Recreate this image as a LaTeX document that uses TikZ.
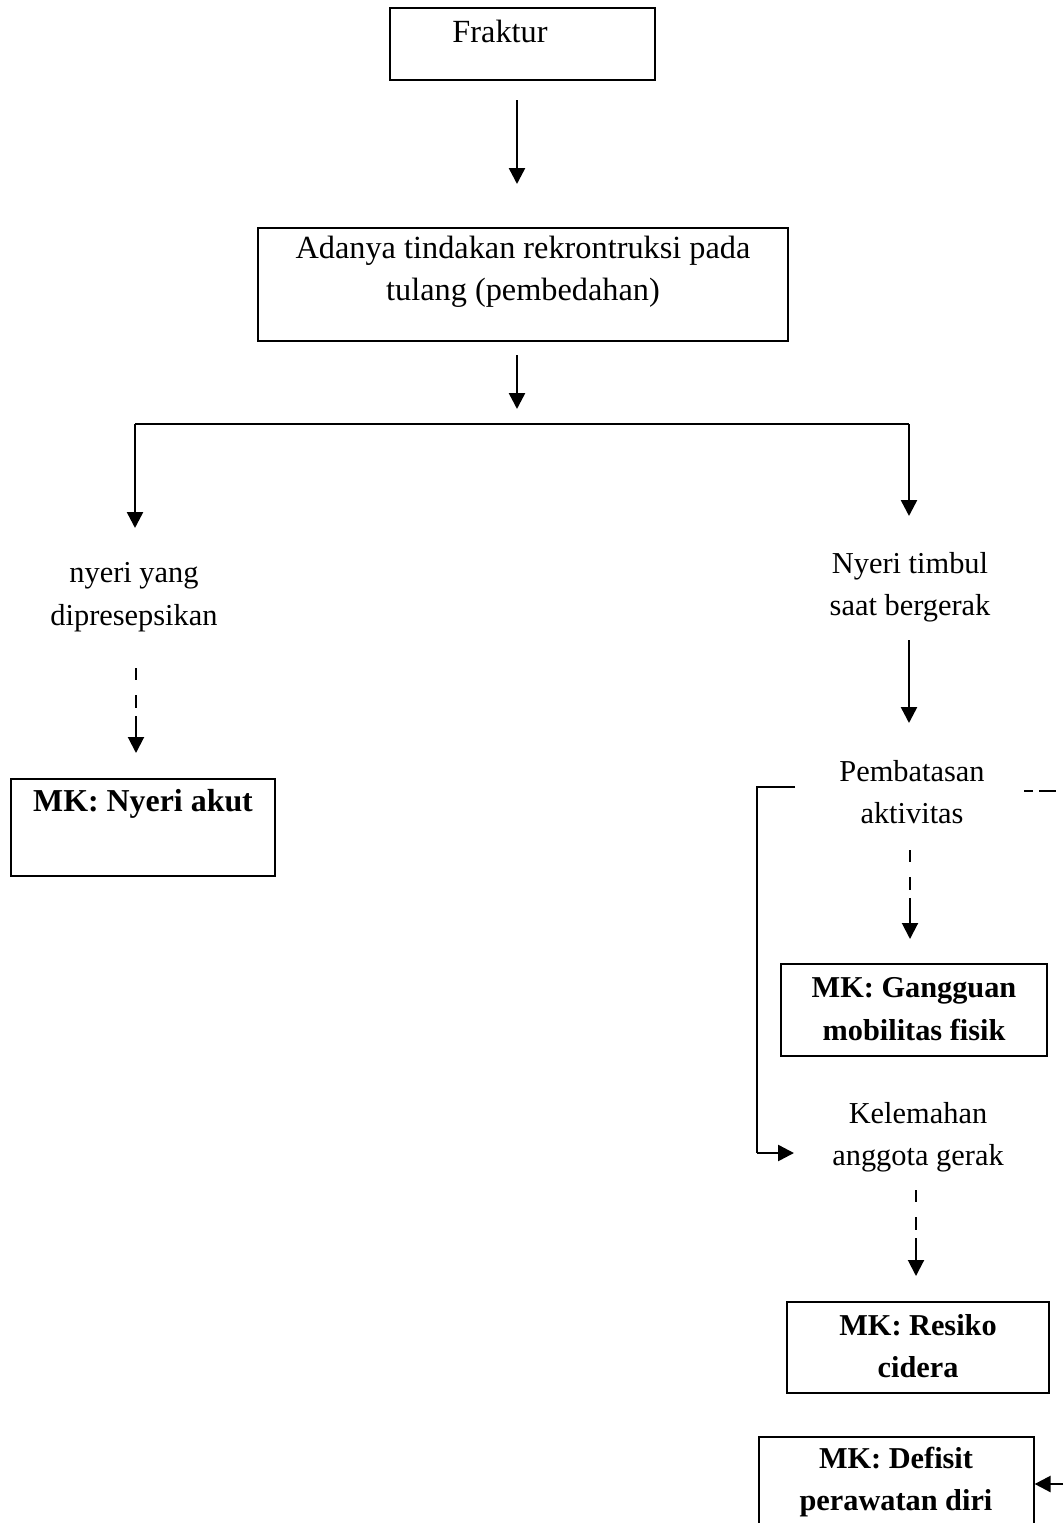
\documentclass[tikz,border=0pt]{standalone}
\usepackage{fontspec}
\setmainfont{Liberation Serif}
\usetikzlibrary{arrows.meta,calc}
\begin{document}
\begin{tikzpicture}[x=1pt,y=-1pt,
  txt/.style={font=\fontsize{32.3}{42.5}\selectfont, align=center, inner sep=0pt},
  ptxt/.style={font=\fontsize{30.4}{42.5}\selectfont, align=center, inner sep=0pt},
  btxt/.style={font=\fontsize{30.3}{42.5}\selectfont\bfseries, align=center, inner sep=0pt},
  box/.style={draw, line width=1.2pt, inner sep=0pt},
  ln/.style={line width=1.8pt},
  arr/.style={line width=2.5pt, -{Triangle[width=16pt,length=16pt]}},
  darr/.style={arr, line width=2pt, dash pattern=on 12pt off 15pt on 13pt off 8pt on 80pt},
]
\clip (0,0) rectangle (1063,1523);
\fill[white] (0,0) rectangle (1063,1523);

% boxes
\node[box, minimum width=265pt, minimum height=72pt] (fraktur) at (522.5,44) {};
\node[txt] (frakturT) at (500,31) {Fraktur};
\node[box, minimum width=530pt, minimum height=113pt] (tindakan) at (523,284.5) {};
\node[txt] (tindakanT) at (523,272) {Adanya tindakan rekrontruksi pada\\tulang (pembedahan)};
\node[box, minimum width=264pt, minimum height=97pt] (akut) at (143,827.5) {};
\node[btxt, font=\fontsize{31.9}{42.5}\selectfont\bfseries] (akutT) at (143,804) {MK: Nyeri akut};
\node[box, minimum width=266pt, minimum height=92pt] (gangguan) at (914,1010) {};
\node[btxt] (gangguanT) at (914,1009) {MK: Gangguan\\mobilitas fisik};
\node[box, minimum width=262pt, minimum height=91pt] (resiko) at (918,1347.5) {};
\node[btxt] (resikoT) at (918,1346) {MK: Resiko\\cidera};
\node[box, minimum width=275pt, minimum height=103pt] (defisit) at (896.5,1488.5) {};
\node[btxt] (defisitT) at (896,1482) {MK: Defisit\\perawatan diri};

% plain texts
\node[ptxt] (nyeri1) at (134,597) {nyeri yang\\dipresepsikan};
\node[ptxt] (timbul) at (910,587) {Nyeri timbul\\saat bergerak};
\node[ptxt] (pemb) at (912,792) {Pembatasan\\aktivitas};
\node[ptxt] (kelem) at (918,1137) {Kelemahan\\anggota gerak};

% coordinates
\coordinate (a1s) at (517,100);
\coordinate (a1e) at (517,184);
\coordinate (a2s) at (517,355);
\coordinate (a2e) at (517,409);
\coordinate (splitL) at (135,424);
\coordinate (splitR) at (909,424);
\coordinate (tL) at (135,528);
\coordinate (tR) at (909,516);
\coordinate (a3s) at (909,640);
\coordinate (a3e) at (909,723);
\coordinate (d1s) at (136,668);
\coordinate (d1e) at (136,753);
\coordinate (d2s) at (910,850);
\coordinate (d2e) at (910,939);
\coordinate (d3s) at (916,1190);
\coordinate (d3e) at (916,1276);
\coordinate (b1) at (795,787);
\coordinate (b2) at (757,787);
\coordinate (b3) at (757,1153);
\coordinate (b4) at (794,1153);
\coordinate (r1) at (1024,791);
\coordinate (r2) at (1063,791);
\coordinate (e1) at (1063,1484);

% connectors
\draw[arr] (a1s) -- (a1e);
\draw[arr] (a2s) -- (a2e);
\draw[ln] (splitL) -- (splitR);
\draw[arr] (splitL) -- (tL);
\draw[arr] (splitR) -- (tR);
\draw[arr] (a3s) -- (a3e);
\draw[darr] (d1s) -- (d1e);
\draw[darr] (d2s) -- (d2e);
\draw[darr] (d3s) -- (d3e);
\draw[ln] (b1) -- (b2) -- (b3);
\draw[arr] (b3) -- (b4);
\draw[ln, dash pattern=on 9pt off 6pt on 17pt off 20pt] (r1) -- (r2);
\draw[arr] (e1) -- (defisit.east |- e1);
\end{tikzpicture}
\end{document}
